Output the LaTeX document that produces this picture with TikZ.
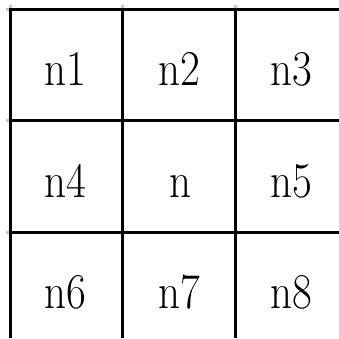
\documentclass[tikz,border=0pt]{standalone}
\usepackage{graphicx}
\newcommand\celltext[1]{\scalebox{0.86}[1]{#1}}
\tikzset{
  gridline/.style={line width=3pt, black},
  stub/.style={line width=3pt, black!22},
  lbl/.style={anchor=base, inner sep=0pt, font=\fontsize{50}{50}\selectfont}
}
\begin{document}
\begin{tikzpicture}[x=1pt,y=-1pt]
\useasboundingbox (0,0) rectangle (339,338);
% gray stubs
\foreach \x in {10.5,122.5,235.5} \draw[stub] (\x,5) -- (\x,8);
\foreach \y in {9.5,120.5,232.5} \draw[stub] (6,\y) -- (9,\y);
% grid lines
\foreach \x in {10.5,122.5,235.5} \draw[gridline] (\x,8) -- (\x,338);
\foreach \y in {9.5,120.5,232.5} \draw[gridline] (9,\y) -- (339,\y);
% labels
\node[lbl] (n1) at (65,85) {\celltext{n1}};
\node[lbl] (n2) at (179.5,85) {\celltext{n2}};
\node[lbl] (n3) at (291.5,85) {\celltext{n3}};
\node[lbl] (n4) at (65,197) {\celltext{n4}};
\node[lbl] (n)  at (180.5,197) {\celltext{n}};
\node[lbl] (n5) at (291,197) {\celltext{n5}};
\node[lbl] (n6) at (65,308) {\celltext{n6}};
\node[lbl] (n7) at (179.5,308) {\celltext{n7}};
\node[lbl] (n8) at (291.5,308) {\celltext{n8}};
\end{tikzpicture}
\end{document}
